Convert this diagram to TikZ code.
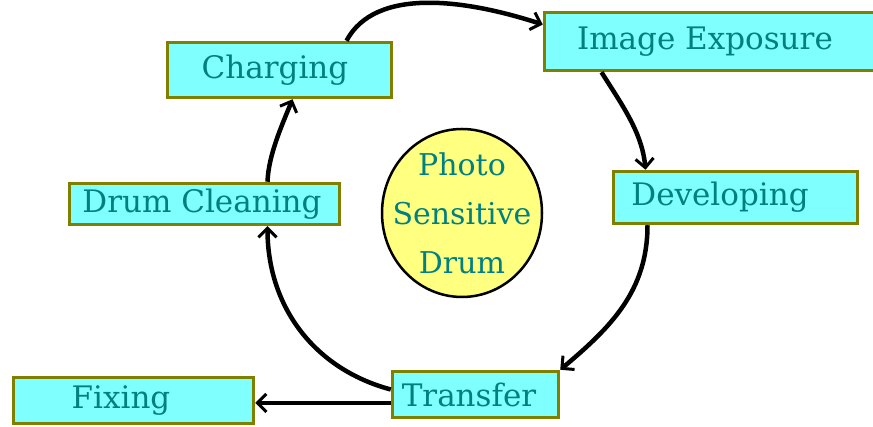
\documentclass[tikz,border=0pt]{standalone}
\usepackage{fontspec}
\setmainfont{DejaVu Serif}
\usetikzlibrary{arrows.meta,shapes.geometric}
\definecolor{boxfill}{HTML}{80FFFF}
\definecolor{boxline}{HTML}{808000}
\definecolor{txt}{HTML}{008080}
\definecolor{drumfill}{HTML}{FFFF80}
\tikzset{
  stagebox/.style={draw=boxline, line width=3.5pt, fill=boxfill, text=txt, inner sep=0pt,
    font=\fontsize{31}{36}\selectfont},
  arr/.style={line width=4.5pt, -{Straight Barb[length=9pt,width=18pt,line width=3pt]}},
}
\begin{document}
\begin{tikzpicture}[x=1pt,y=1pt]
\useasboundingbox (0,0) rectangle (873,427);
\node[stagebox, minimum width=224pt, minimum height=55pt] (ch) at (279.5,357) {Charging\hspace*{9pt}};
\node[stagebox, minimum width=334pt, minimum height=58pt] (img) at (711.5,385.5) {Image Exposure\hspace*{13pt}};
\node[stagebox, minimum width=244pt, minimum height=52pt] (dev) at (735.5,229.5) {Developing\hspace*{31pt}};
\node[stagebox, minimum width=270pt, minimum height=41pt] (dc) at (204.5,223) {Drum Cleaning\hspace*{5pt}};
\node[stagebox, minimum width=240pt, minimum height=46pt] (fix) at (133.5,26.5) {Fixing\hspace*{25pt}};
\node[stagebox, minimum width=166pt, minimum height=46pt] (tr) at (475.5,32.5) {Transfer\hspace*{13pt}};
\node[ellipse, draw=black, line width=2.5pt, fill=drumfill, minimum width=160pt, minimum height=168pt, inner sep=0pt] (drum) at (462,214) {};
\node[text=txt, align=center, font=\fontsize{30}{49}\selectfont] (drumtext) at (drum.center) {Photo\\Sensitive\\Drum};
\draw[arr] ([xshift=67pt]ch.north) to[out=62,in=162,out looseness=0.8,in looseness=1.05] ([yshift=17pt]img.west);
\draw[arr] ([xshift=-110pt]img.south) to[out=-58,in=95,looseness=0.9] ([xshift=-90pt]dev.north);
\draw[arr] ([xshift=-88pt]dev.south) to[out=-90,in=40] (tr.north east);
\draw[arr] ([yshift=5pt]tr.west) to[out=165,in=-90] ([xshift=63pt]dc.south);
\draw[arr] ([xshift=63pt]dc.north) to[out=88,in=-112,looseness=0.8] ([xshift=13pt]ch.south);
\draw[arr] ([yshift=-8.5pt]tr.west) -- ([yshift=-2.5pt]fix.east);
\end{tikzpicture}
\end{document}
